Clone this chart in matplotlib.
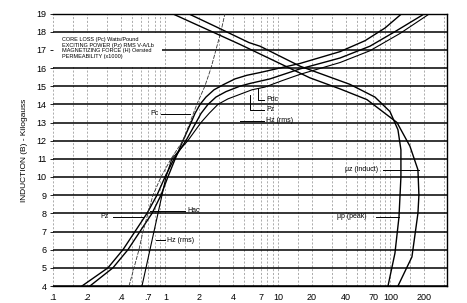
"""Magnetic core material chart: loss, exciting power, magnetizing force
and permeability against induction, on log-linear paper.
"""

import matplotlib
matplotlib.use("Agg")
import matplotlib.pyplot as plt
from matplotlib.patches import Rectangle
from matplotlib.ticker import NullLocator

plt.rcParams["font.family"] = ["Liberation Sans", "DejaVu Sans"]

# Core loss (Pc), W/lb, against induction (kilogauss).
pc_b = [4, 5, 6, 7, 8, 9, 10, 11, 12, 13, 13.5, 14, 14.4, 14.8, 15.1, 15.4, 15.6, 15.75,
        16.25, 16.9, 17.5, 18.2, 19]
pc_x = [0.213, 0.341, 0.464, 0.593, 0.759, 0.912, 1.05, 1.22, 1.43, 1.69, 1.83, 2.03, 2.29,
        2.70, 3.31, 4.15, 5.30, 6.92, 15.7, 35.6, 59.3, 89.4, 126.6]

# Exciting power (Pz), RMS V-A/lb.
pz_b = [4, 5, 6, 7, 8, 9, 10, 11, 12, 13, 13.5, 14, 14.4, 14.7, 15.0, 15.15, 15.4, 15.95,
        16.55, 17.2, 18.0, 19]
pz_x = [0.181, 0.308, 0.419, 0.536, 0.685, 0.840, 0.990, 1.19, 1.52, 1.87, 2.07, 2.39, 2.81,
        3.45, 4.59, 5.64, 8.49, 15.7, 35.6, 65.7, 109.6, 202.6]

# Magnetizing force, rms (Hz), oersted.
hz_b = [4, 5, 6, 7, 8, 9, 10, 11, 12, 13, 13.5, 14, 14.3, 14.55, 14.8, 14.95, 15.3, 15.65,
        16.3, 16.95, 17.9, 19]
hz_x = [0.618, 0.671, 0.728, 0.790, 0.858, 0.931, 1.01, 1.14, 1.58, 2.07, 2.44, 2.93, 3.59,
        4.59, 5.87, 7.66, 10.85, 15.7, 35.6, 65.7, 121.5, 224.4]

# Magnetizing force, peak ac (Hac), oersted.
hac_b = [4, 5, 6, 7, 8, 9, 10, 11, 12, 13, 14, 15, 16, 17, 18, 19]
hac_x = [0.474, 0.525, 0.581, 0.631, 0.699, 0.774, 0.912, 1.12, 1.43, 1.65, 1.90, 2.24,
         2.54, 2.81, 3.11, 3.38]

# Permeability (x1000), peak and inductive.
mup_b = [19, 18.3, 17.4, 17.2, 16.1, 15.1, 14.4, 13.6, 12.6, 11.5, 10, 7.8, 5.8, 4]
mup_x = [1.585, 2.75, 5.52, 6.92, 15.7, 43.6, 72.8, 99.1, 116.6, 123.9, 123.9, 119.1,
         109.6, 95.1]
muz_b = [19, 17.3, 15.46, 14.85, 14.26, 13, 11.7, 10.4, 9, 8, 5.6, 4]
muz_x = [1.142, 4.59, 19.2, 35.6, 61.8, 114.3, 148.9, 175.5, 179.1, 175.5, 155.2, 116.6]

x_ticks = [0.1, 0.2, 0.4, 0.7, 1, 2, 4, 7, 10, 20, 40, 70, 100, 200]
x_tick_labels = [".1", ".2", ".4", ".7", "1", "2", "4", "7", "10", "20", "40", "70", "100", "200"]
y_ticks = list(range(4, 20))
paper_steps = [1, 1.5, 2, 3, 4, 5, 6, 7, 8, 9]
legend_lines = [
    "CORE LOSS (Pc) Watts/Pound",
    "EXCITING POWER (Pz) RMS V-A/Lb",
    "MAGNETIZING FORCE (H) Oersted",
    "PERMEABILITY (x1000)",
]

fig = plt.figure(figsize=(4.67, 3.03), dpi=100)
ax = fig.add_axes([53 / 467, 17 / 303, 393.5 / 467, 272.5 / 303])
ax.set_xscale("log")
ax.set_xlim(0.1, 315)
ax.set_ylim(4, 19)

# Log paper: solid rules per kilogauss, dashed rules at 1, 1.5, 2 ... 9.
for b in y_ticks:
    ax.axhline(b, color="black", lw=1.1, zorder=1)
for decade in [0.1, 1, 10, 100]:
    for step in paper_steps:
        v = decade * step
        if v < 315:
            ax.axvline(v, color="0.55", lw=0.5, ls=(0, (3, 2.5)), zorder=0.5)

# White panel holding the legend text.
ax.add_patch(Rectangle((0.1, 16.06), 0.83, 1.88, facecolor="white",
                       edgecolor="none", zorder=1.5))
for i, line in enumerate(legend_lines):
    ax.text(0.1202, 17.57 - i * 0.31, line, fontsize=4, va="center", zorder=2)

ax.plot(pc_x, pc_b, color="black", lw=1.0, zorder=3)
ax.plot(pz_x, pz_b, color="black", lw=1.0, zorder=3)
ax.plot(hz_x, hz_b, color="black", lw=0.8, zorder=3)
ax.plot(hac_x, hac_b, color="0.2", lw=0.6, ls=(0, (5, 1.5)), zorder=3)
ax.plot(mup_x, mup_b, color="black", lw=1.0, zorder=3)
ax.plot(muz_x, muz_b, color="black", lw=1.0, zorder=3)

# Curve labels with their leader lines.
lab = dict(fontsize=5, va="center", zorder=4)
lead = dict(color="black", lw=0.7, zorder=4)
ax.text(0.728, 13.48, "Pc", **lab)
ax.plot([0.912, 1.654], [13.48, 13.48], **lead)
ax.text(7.82, 14.26, "Pdc", **lab)
ax.plot([6.66, 6.66, 7.51], [14.92, 14.26, 14.26], **lead)
ax.text(7.82, 13.70, "Pz", **lab)
ax.plot([5.64, 5.64, 7.51], [14.53, 13.70, 13.70], **lead)
ax.text(7.82, 13.10, "Hz (rms)", **lab)
ax.plot([4.59, 7.51], [13.10, 13.10], **lead)
ax.text(0.315, 7.80, "Pz", ha="right", **lab)
ax.plot([0.341, 0.645], [7.80, 7.80], **lead)
ax.text(1.553, 8.13, "Hac", **lab)
ax.plot([0.728, 1.49], [8.13, 8.13], **lead)
ax.text(1.031, 6.51, "Hz (rms)", **lab)
ax.plot([0.824, 0.990], [6.51, 6.51], **lead)
ax.text(39.4, 10.40, "μz (induct)", **lab)
ax.plot([85.8, 179.1], [10.40, 10.40], **lead)
ax.text(33.5, 7.80, "μp (peak)", **lab)
ax.plot([74.3, 119.1], [7.80, 7.80], **lead)

ax.set_xticks(x_ticks)
ax.set_xticklabels(x_tick_labels)
ax.xaxis.set_minor_locator(NullLocator())
ax.set_yticks(y_ticks)
ax.tick_params(axis="both", labelsize=6.5, length=2.5, width=0.6, pad=2)
ax.tick_params(axis="x", length=0, pad=5)

ax.spines["left"].set_visible(False)
for side in ["top", "bottom", "right"]:
    ax.spines[side].set_linewidth(1.0)

fig.text(25 / 467, 0.505, "INDUCTION (B) - Kilogauss", rotation=90,
         fontsize=6, ha="center", va="center")

fig.savefig("out.png", dpi=100)
